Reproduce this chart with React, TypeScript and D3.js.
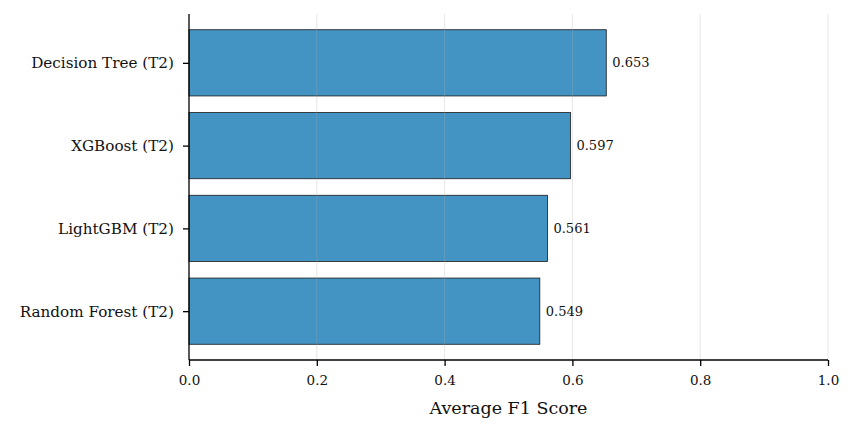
import { useEffect, useRef } from 'react';
import * as d3 from 'd3';

const models = ['Random Forest (T2)', 'LightGBM (T2)', 'XGBoost (T2)', 'Decision Tree (T2)'];
const scores = [0.549, 0.561, 0.597, 0.653];
const xTicks = [0, 0.2, 0.4, 0.6, 0.8, 1.0];

const font = '"DejaVu Serif", "Liberation Serif", serif';

export default function App() {
    const ref = useRef<SVGSVGElement>(null);
    const width = 856;
    const height = 433;
    const margin = { t: 14, r: 28, b: 73, l: 189 };

    useEffect(() => {
        const svg = d3.select(ref.current);
        svg.selectAll('*').remove();

        const x = d3.scaleLinear().domain([0, 1]).range([margin.l, width - margin.r]);
        const y = d3.scaleLinear().domain([-0.59, 3.59]).range([height - margin.b, margin.t]);
        const barH = y(0) - y(0.8);

        const bars = models.map((m, i) => ({ m, v: scores[i], i }));

        svg.append('g')
            .selectAll('rect')
            .data(bars)
            .join('rect')
            .attr('x', x(0))
            .attr('y', d => y(d.i + 0.4))
            .attr('width', d => x(d.v) - x(0))
            .attr('height', barH)
            .attr('fill', '#4393c3')
            .attr('stroke', '#1a1a1a')
            .attr('stroke-width', 0.8);

        // grid over bars
        svg.append('g')
            .selectAll('line')
            .data(xTicks.slice(1))
            .join('line')
            .attr('x1', d => x(d)).attr('x2', d => x(d))
            .attr('y1', margin.t).attr('y2', height - margin.b)
            .attr('stroke', '#b0b0b0')
            .attr('stroke-opacity', 0.3)
            .attr('stroke-width', 1);

        svg.append('g')
            .selectAll('text')
            .data(bars)
            .join('text')
            .attr('x', d => x(d.v) + 6)
            .attr('y', d => y(d.i))
            .attr('dy', '0.35em')
            .attr('font-family', font)
            .attr('font-size', 13)
            .attr('fill', '#111')
            .text(d => d.v.toFixed(3));

        const xAxis = svg.append('g')
            .attr('transform', `translate(0,${height - margin.b})`)
            .call(d3.axisBottom(x).tickValues(xTicks).tickFormat(d3.format('.1f')).tickSizeOuter(0).tickSize(6));
        xAxis.select('.domain').remove();
        xAxis.selectAll('.tick line').attr('stroke', '#000').attr('stroke-width', 1.3);
        xAxis.selectAll('.tick text')
            .attr('font-family', font).attr('font-size', 13.5).attr('fill', '#111').attr('dy', '1.2em');

        const yAxis = svg.append('g')
            .attr('transform', `translate(${margin.l},0)`)
            .call(d3.axisLeft(y).tickValues(d3.range(models.length)).tickFormat(i => models[+i]).tickSizeOuter(0).tickSize(6));
        yAxis.select('.domain').remove();
        yAxis.selectAll('.tick line').attr('stroke', '#000').attr('stroke-width', 1.3);
        yAxis.selectAll('.tick text')
            .attr('font-family', font).attr('font-size', 15.2).attr('fill', '#111').attr('dx', '-0.4em');

        // spines
        svg.append('line')
            .attr('x1', x(0)).attr('x2', x(1))
            .attr('y1', height - margin.b).attr('y2', height - margin.b)
            .attr('stroke', '#000').attr('stroke-width', 1.3);
        svg.append('line')
            .attr('x1', x(0)).attr('x2', x(0))
            .attr('y1', margin.t).attr('y2', height - margin.b)
            .attr('stroke', '#000').attr('stroke-width', 1.3);

        svg.append('text')
            .attr('x', (x(0) + x(1)) / 2)
            .attr('y', 414)
            .attr('text-anchor', 'middle')
            .attr('font-family', font)
            .attr('font-size', 17.5)
            .attr('fill', '#111')
            .text('Average F1 Score');
    }, []);

    return (
        <svg ref={ref} width={width} height={height}
            style={{ position: 'absolute', left: 0, top: 0, background: '#fff' }} />
    );
}
